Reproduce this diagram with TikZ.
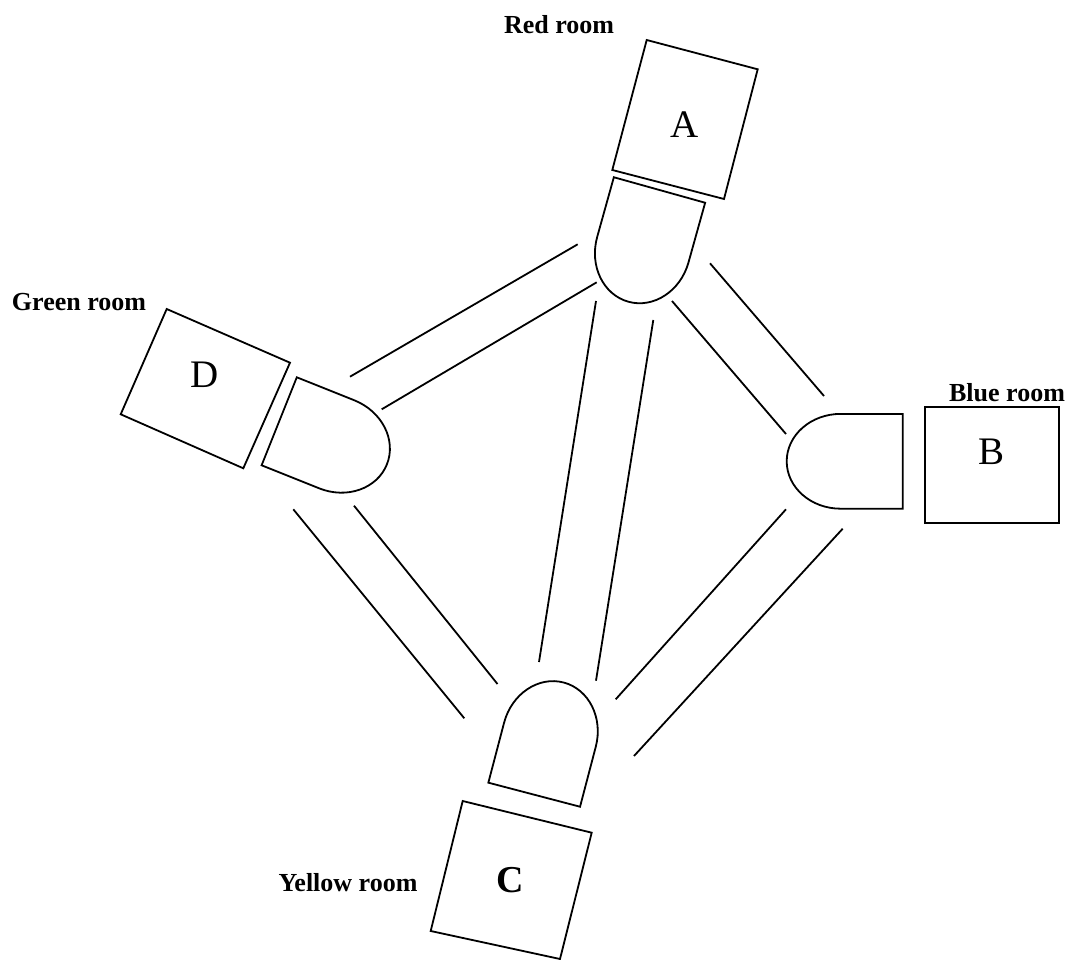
\documentclass[tikz,border=0pt]{standalone}
\usepackage{fontspec}
\setmainfont{Liberation Serif}
\begin{document}
\begin{tikzpicture}[x=1pt,y=1pt,
  wall/.style={line width=1.8pt, line join=miter},
  corr/.style={line width=1.8pt},
  lbl/.style={font=\fontsize{26}{30}\selectfont\bfseries, inner sep=0pt},
  letter/.style={font=\fontsize{39}{44}\selectfont, inner sep=0pt},
  doorshape/.pic={\draw[wall] (0,47.4) -- (62,47.4) arc[start angle=90,end angle=-90,x radius=54pt,y radius=47.4pt] -- (0,-47.4) -- cycle;}]
\useasboundingbox (0,0) rectangle (1072,-960);
% rooms
\draw[wall] (646.7,-40) -- (757.7,-69.3) -- (724,-199) -- (612.3,-170) -- cycle;
\draw[wall] (166.7,-309) -- (290,-362.7) -- (243.3,-468.3) -- (120.7,-414.3) -- cycle;
\draw[wall] (925,-407.3) rectangle (1059.3,-523.3);
\draw[wall] (462.7,-801) -- (591.7,-832.7) -- (560,-959) -- (430.7,-931) -- cycle;
% room letters
\node[letter] (la) at (685,-125) {A};
\node[letter] (ld) at (205,-375) {D};
\node[letter] (lb) at (991,-452) {B};
\node[letter,font=\fontsize{38}{44}\selectfont\bfseries] (lc) at (510,-880) {C};
% room names
\node[lbl] (red) at (559,-25) {Red room};
\node[lbl] (green) at (79,-302) {Green room};
\node[lbl] (blue) at (1007,-393) {Blue room};
\node[lbl] (yellow) at (348,-883) {Yellow room};
% doors
\pic[rotate=-105.6] at (659.5,-190) {doorshape};
\pic[rotate=180] at (902.7,-461.3) {doorshape};
\pic[rotate=-21.8] at (279.2,-421.3) {doorshape};
\pic[rotate=75.3] at (534.2,-794.7) {doorshape};
% corridor end points
\coordinate (ad1s) at (350,-376.7);   \coordinate (ad1e) at (577.7,-244.3);
\coordinate (ad2s) at (381.7,-409.3); \coordinate (ad2e) at (596.7,-282.3);
\coordinate (ac1s) at (596,-301);     \coordinate (ac1e) at (539,-662);
\coordinate (ac2s) at (653.3,-320);   \coordinate (ac2e) at (596,-680.7);
\coordinate (ab1s) at (710,-263.3);   \coordinate (ab1e) at (824,-396);
\coordinate (ab2s) at (672,-301);     \coordinate (ab2e) at (786,-434);
\coordinate (bc1s) at (786,-509.3);   \coordinate (bc1e) at (615.7,-699.3);
\coordinate (bc2s) at (842.7,-528.7); \coordinate (bc2e) at (634,-756);
\coordinate (dc1s) at (293.3,-509.3); \coordinate (dc1e) at (464.3,-718.3);
\coordinate (dc2s) at (354,-505.7);   \coordinate (dc2e) at (497.5,-684);
% corridors
\draw[corr] (ad1s) -- (ad1e);
\draw[corr] (ad2s) -- (ad2e);
\draw[corr] (ac1s) -- (ac1e);
\draw[corr] (ac2s) -- (ac2e);
\draw[corr] (ab1s) -- (ab1e);
\draw[corr] (ab2s) -- (ab2e);
\draw[corr] (bc1s) -- (bc1e);
\draw[corr] (bc2s) -- (bc2e);
\draw[corr] (dc1s) -- (dc1e);
\draw[corr] (dc2s) -- (dc2e);
\end{tikzpicture}
\end{document}
